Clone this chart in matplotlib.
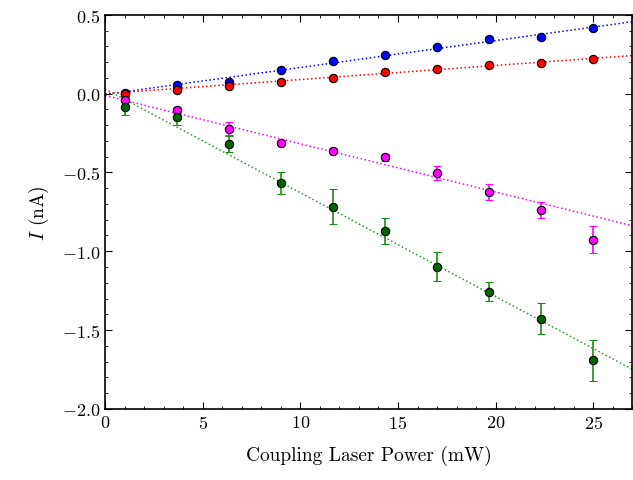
import numpy as np
import matplotlib
matplotlib.use("Agg")
import matplotlib.pyplot as plt
from matplotlib.ticker import MultipleLocator, FuncFormatter

plt.rcParams['font.family'] = 'serif'
plt.rcParams['font.serif'] = ['cmr10', 'DejaVu Serif']
plt.rcParams['mathtext.fontset'] = 'cm'
plt.rcParams['axes.formatter.use_mathtext'] = True

# coupling laser power (mW)
power = [1.0, 3.67, 6.33, 9.0, 11.67, 14.33, 17.0, 19.67, 22.33, 25.0]

# measured currents (nA) and errors
blue_I = [0.007, 0.054, 0.077, 0.153, 0.206, 0.244, 0.295, 0.346, 0.362, 0.415]
blue_err = [0.01, 0.01, 0.01, 0.01, 0.01, 0.01, 0.012, 0.012, 0.012, 0.012]
red_I = [0.0, 0.024, 0.051, 0.077, 0.102, 0.138, 0.155, 0.181, 0.195, 0.223]
red_err = [0.008, 0.008, 0.008, 0.008, 0.008, 0.008, 0.008, 0.008, 0.008, 0.008]
mag_I = [-0.039, -0.103, -0.223, -0.312, -0.363, -0.405, -0.504, -0.623, -0.739, -0.928]
mag_err = [0.015, 0.02, 0.04, 0.015, 0.015, 0.02, 0.047, 0.05, 0.05, 0.085]
green_I = [-0.082, -0.145, -0.32, -0.565, -0.718, -0.871, -1.099, -1.258, -1.427, -1.691]
green_err = [0.055, 0.057, 0.053, 0.07, 0.11, 0.085, 0.091, 0.06, 0.10, 0.13]

# linear fits: I = a + b*P
fit_a = [-0.005, 0.0, -0.012, 0.03]
fit_b = [0.0171, 0.00896, -0.0306, -0.0659]

series = [
    (blue_I, blue_err, '#0000ff', '#0000ff', '#0000ff'),
    (red_I, red_err, '#ff0000', '#ff0000', '#ff0000'),
    (mag_I, mag_err, '#ff00ff', '#ff00ff', '#ff00ff'),
    (green_I, green_err, '#006400', '#1a8c1a', '#2a9a2a'),
]

fig = plt.figure(figsize=(6.33, 4.81), dpi=100)
ax = fig.add_axes([0.166, 0.148, 0.833, 0.819])

xf = np.linspace(0, 27, 200)
for i, (yv, ye, fc, ec, lc) in enumerate(series):
    ax.plot(xf, fit_a[i] + fit_b[i] * xf, ':', color=lc, lw=1.1, zorder=1)
for yv, ye, fc, ec, lc in series:
    ax.errorbar(power, yv, yerr=ye, fmt='o', ms=6, mfc=fc, mec='black', mew=0.8,
                ecolor=ec, elinewidth=1.2, capsize=3, capthick=1.2, zorder=3)

ax.set_xlim(0, 27)
ax.set_ylim(-2.0, 0.5)
ax.xaxis.set_major_locator(MultipleLocator(5))
ax.xaxis.set_minor_locator(MultipleLocator(1))
ax.yaxis.set_major_locator(MultipleLocator(0.5))
ax.yaxis.set_minor_locator(MultipleLocator(0.1))
ax.yaxis.set_major_formatter(FuncFormatter(lambda v, p: '$%.1f$' % v))
ax.xaxis.set_major_formatter(FuncFormatter(lambda v, p: '$%d$' % round(v)))
ax.tick_params(which='both', direction='in', top=True, right=True, labelsize=13)
ax.tick_params(which='major', length=5)
ax.tick_params(which='minor', length=2.5)
for s in ax.spines.values():
    s.set_linewidth(1.2)

ax.set_xlabel('Coupling Laser Power (mW)', size=14, labelpad=10)
ax.set_ylabel('$I$ (nA)', size=14, labelpad=8)

fig.savefig('out.png', dpi=100)
